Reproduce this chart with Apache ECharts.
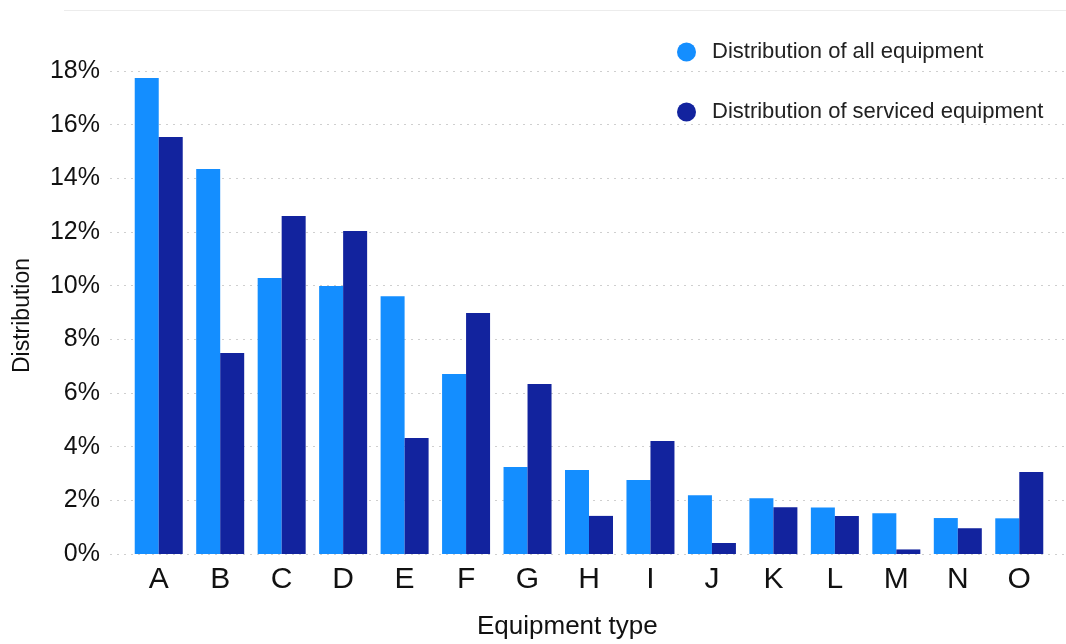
<!DOCTYPE html>
<html>
<head>
<meta charset="utf-8">
<script src="https://cdn.jsdelivr.net/npm/echarts@6/dist/echarts.min.js"></script>
<style>html,body{margin:0;padding:0;background:#fff}#c{width:1066px;height:644px}</style>
</head>
<body>
<div id="c"></div>
<script>
const categories = ['A','B','C','D','E','F','G','H','I','J','K','L','M','N','O'];
const allEquipment = [17.74,14.35,10.29,9.99,9.61,6.71,3.24,3.13,2.76,2.19,2.08,1.73,1.52,1.34,1.33];
const servicedEquipment = [15.54,7.49,12.6,12.04,4.32,8.98,6.34,1.42,4.21,0.41,1.74,1.42,0.17,0.96,3.06];
const seriesNames = ['Distribution of all equipment','Distribution of serviced equipment'];
const yTicks = [0,2,4,6,8,10,12,14,16,18];

const font = '"Liberation Sans", Arial, sans-serif';
const chart = echarts.init(document.getElementById('c'));
chart.setOption({
  animation: false,
  textStyle: { fontFamily: font },
  grid: [
    { left: 128, right: 16, top: 71, bottom: 90 },
    { left: 110, right: 0, top: 71, bottom: 90 }
  ],
  legend: {
    orient: 'vertical', left: 672, top: 36,
    icon: 'circle', itemWidth: 19, itemHeight: 19, itemGap: 38,
    textStyle: { fontSize: 22, lineHeight: 19, color: '#222', fontFamily: font, padding: [0,0,0,11] },
    data: seriesNames
  },
  xAxis: [
    {
      type: 'category', data: categories, gridIndex: 0,
      axisLine: { show: false }, axisTick: { show: false },
      axisLabel: { fontSize: 30, color: '#111', margin: 11, fontFamily: font }
    },
    { type: 'value', gridIndex: 1, show: false, min: 0, max: 1 }
  ],
  yAxis: [
    {
      type: 'value', gridIndex: 0, min: yTicks[0], max: yTicks[yTicks.length-1], interval: 2,
      axisLabel: { formatter: v => v + '%', fontSize: 25, color: '#111', margin: 28, fontFamily: font },
      splitLine: { show: false },
      axisLine: { show: false }, axisTick: { show: false }
    },
    {
      type: 'value', gridIndex: 1, min: yTicks[0], max: yTicks[yTicks.length-1], interval: 2,
      axisLabel: { show: false },
      splitLine: { lineStyle: { type: [2,5], color: '#cfcfcf', width: 1 } },
      axisLine: { show: false }, axisTick: { show: false }
    }
  ],
  graphic: [
    { type: 'line', shape: { x1: 64, y1: 10.5, x2: 1066, y2: 10.5 }, style: { stroke: '#ececec', lineWidth: 1 } },
    { type: 'text', left: 11, top: 258, rotation: Math.PI/2,
      style: { text: 'Distribution', font: '23px ' + font, fill: '#111' } },
    { type: 'text', left: 477, top: 614,
      style: { text: 'Equipment type', font: '26px ' + font, fill: '#111' } }
  ],
  series: [
    { name: seriesNames[0], type: 'bar', data: allEquipment, barWidth: 24, barGap: '0%', z: 3,
      itemStyle: { color: '#148EFF' } },
    { name: seriesNames[1], type: 'bar', data: servicedEquipment, barWidth: 24, barGap: '0%', z: 3,
      itemStyle: { color: '#12239E' } }
  ]
});
</script>
</body>
</html>
